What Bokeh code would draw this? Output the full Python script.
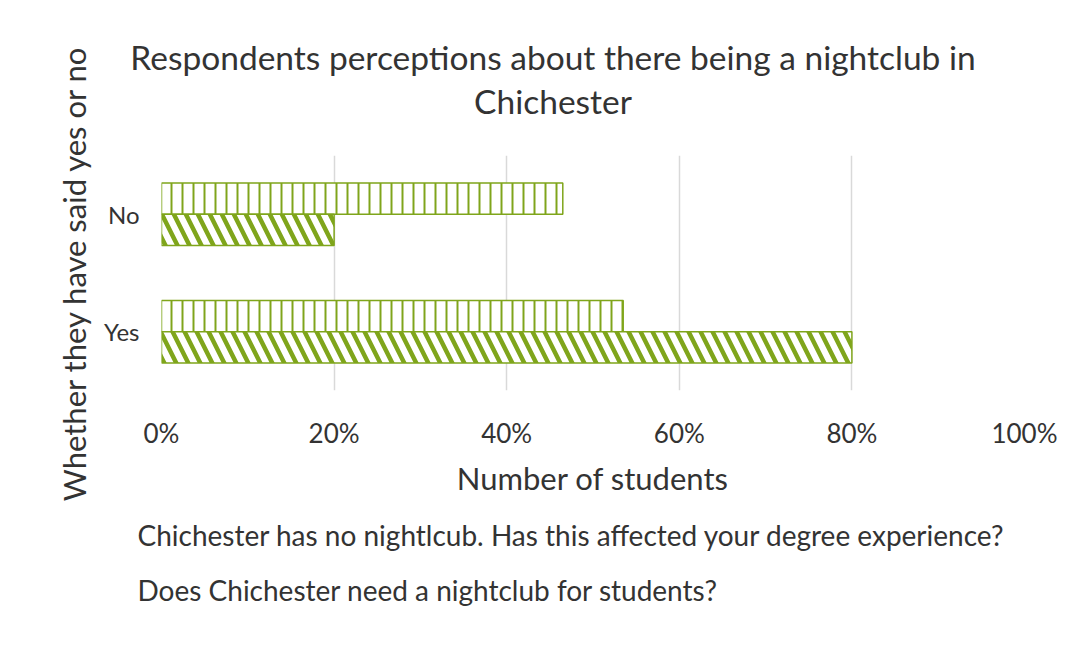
from bokeh.plotting import figure
from bokeh.models import FactorRange, NumeralTickFormatter, ColumnDataSource, Title
from bokeh.transform import dodge
from bokeh.embed import file_html
from bokeh.resources import INLINE

categories = ["Yes", "No"]
affected = [0.535, 0.465]
need_club = [0.80, 0.20]
series_names = ["Chichester has no nightlcub. Has this affected your degree experience?",
                "Does Chichester need a nightclub for students?"]
x_ticks = [0, 0.2, 0.4, 0.6, 0.8, 1.0]
chart_title = "Respondents perceptions about there being a nightclub in\nChichester"
x_title = "Number of students"
y_title = "Whether they have said yes or no"

GREEN = "#7fa51b"
TEXT = "#333333"
FONT = "Lato"

source = ColumnDataSource(dict(cat=categories, affected=affected, need=need_club))

p = figure(width=1092, height=648, y_range=FactorRange(*categories), x_range=(0, 1),
           output_backend="svg", toolbar_location=None, title_location=None,
           min_border_left=161, min_border_right=68, min_border_top=155, min_border_bottom=258)

r1 = p.hbar(y=dodge('cat', 0.133, range=p.y_range), right='affected', left=0, height=0.266,
            source=source, fill_color='white', line_color=GREEN, line_width=1.5,
            hatch_pattern='|', hatch_color=GREEN, hatch_scale=11, hatch_weight=2)
r2 = p.hbar(y=dodge('cat', -0.133, range=p.y_range), right='need', left=0, height=0.266,
            source=source, fill_color='white', line_color=GREEN, line_width=1.5,
            hatch_pattern='\\', hatch_color=GREEN, hatch_scale=24, hatch_weight=4.5)

p.xaxis.ticker = x_ticks
p.xaxis.formatter = NumeralTickFormatter(format="0%")
p.xaxis.axis_label = x_title
p.xaxis.axis_label_text_font = FONT
p.xaxis.axis_label_text_font_size = "31px"
p.xaxis.axis_label_text_font_style = "normal"
p.xaxis.axis_label_text_color = TEXT
p.xaxis.axis_label_standoff = 7
p.xaxis.major_label_text_font = FONT
p.xaxis.major_label_text_font_size = "26px"
p.xaxis.major_label_text_color = TEXT
p.xaxis.major_label_standoff = 26

p.yaxis.axis_label = y_title
p.yaxis.axis_label_text_font = FONT
p.yaxis.axis_label_text_font_size = "31px"
p.yaxis.axis_label_text_font_style = "normal"
p.yaxis.axis_label_text_color = TEXT
p.yaxis.axis_label_standoff = 8
p.yaxis.major_label_text_font = FONT
p.yaxis.major_label_text_font_size = "24px"
p.yaxis.major_label_text_color = TEXT
p.yaxis.major_label_standoff = 22

for ax in (p.xaxis, p.yaxis):
    ax.axis_line_color = None
    ax.major_tick_line_color = None
    ax.minor_tick_line_color = None
    ax.major_tick_out = 0
    ax.major_tick_in = 0
    ax.minor_tick_out = 0

p.ygrid.grid_line_color = None
p.xgrid.grid_line_color = "#d9d9d9"
p.xgrid.grid_line_width = 1.5
p.outline_line_color = None

title = Title(text=chart_title, align="center", vertical_align="middle", standoff=68,
              text_font=FONT, text_font_size="33.5px", text_font_style="normal",
              text_color=TEXT, text_line_height=1.1, padding=(0, 80, 0, 0))
try:
    title.text_align = "center"
except Exception:
    pass
p.add_layout(title, "above")

# series labels shown as a two-line text block below the x axis
legend_text = Title(text=series_names[0] + "\n" + series_names[1], align="left", offset=-24,
                    vertical_align="middle", standoff=36, text_font=FONT,
                    text_font_size="28px", text_font_style="normal", text_color=TEXT,
                    text_line_height=1.6)
try:
    legend_text.text_align = "left"
except Exception:
    pass
p.add_layout(legend_text, "below")

open("out.html", "w").write(file_html(p, INLINE))
